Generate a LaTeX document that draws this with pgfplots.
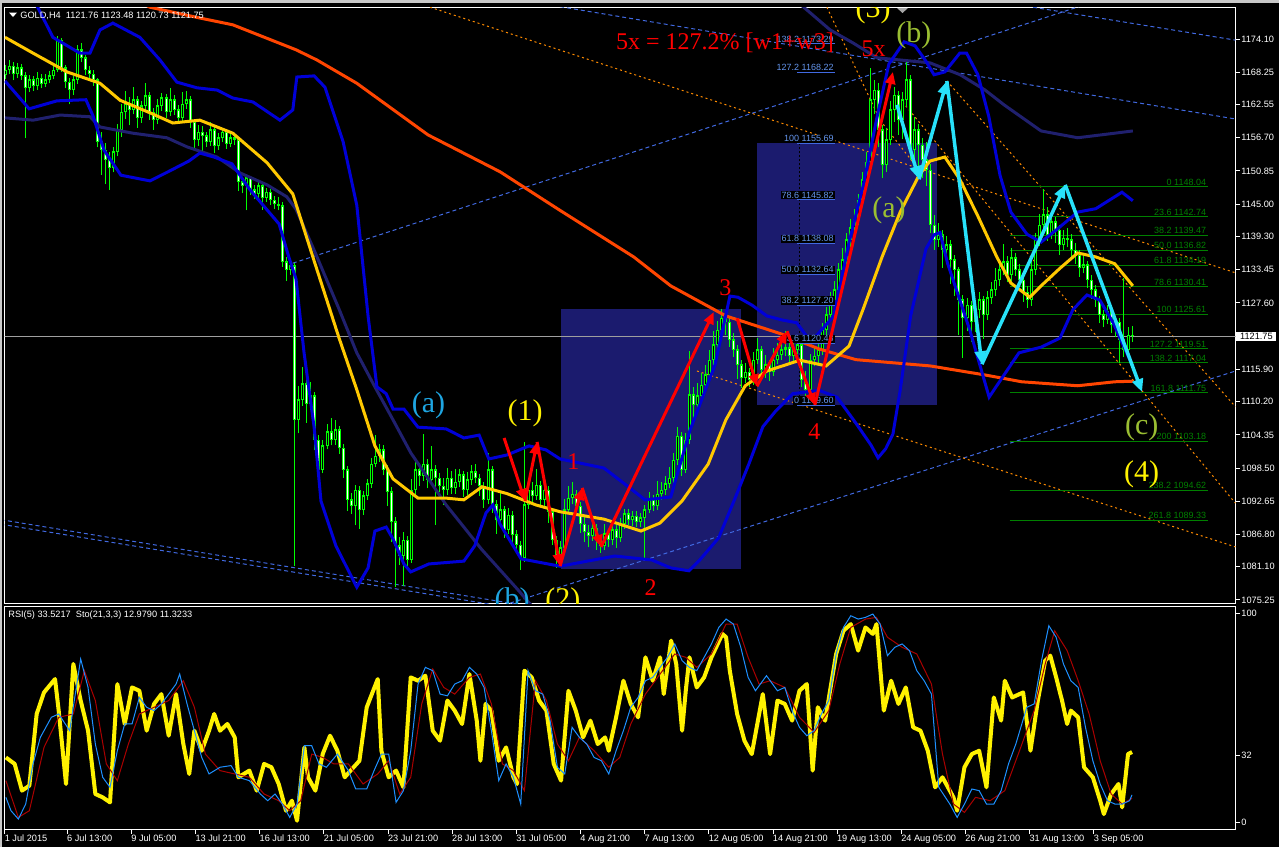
\documentclass[border=0pt]{standalone}
\usepackage{fontspec}
\setmainfont{Liberation Sans}
\newfontfamily\serifl{Liberation Serif}
\usepackage{pgfplots}
\pgfplotsset{compat=1.18}
\usepackage{pgfplotstable}
\usetikzlibrary{arrows.meta}
\newlength\pxu
\setlength\pxu{0.5pt}
\newcommand\ticfont{\fontsize{4.6pt}{5.5pt}\selectfont}
\newcommand\fibfont{\fontsize{4.5pt}{5pt}\selectfont}
\newcommand\wavefont{\serifl\fontsize{15pt}{15pt}\selectfont}
\newcommand\redfont{\serifl\fontsize{12pt}{12pt}\selectfont}
\definecolor{lime}{RGB}{0,255,0}
\definecolor{bbblue}{RGB}{0,0,215}
\definecolor{navyma}{RGB}{32,32,110}
\definecolor{maorange}{RGB}{255,69,0}
\definecolor{mayellow}{RGB}{255,200,0}
\definecolor{fibbox}{RGB}{27,27,110}
\definecolor{fibtxt}{RGB}{100,149,237}
\definecolor{fibgreen}{RGB}{0,128,0}
\definecolor{dashblue}{RGB}{65,105,225}
\definecolor{dotorange}{RGB}{255,140,0}
\definecolor{wcyan}{RGB}{40,225,250}
\definecolor{lblcyan}{RGB}{30,165,225}
\definecolor{olivel}{RGB}{154,190,50}
\definecolor{stblue}{RGB}{30,144,255}
\definecolor{stred}{RGB}{170,0,0}
\definecolor{winframe}{RGB}{200,200,200}
\pgfplotsset{candle/.style={only marks, mark=*, mark size=0pt, mark options={opacity=0}, forget plot}}

\pgfplotstableread{
i o h l c
0 1167.8 1169.6 1167.0 1168.6
1 1168.6 1170.4 1168.0 1169.3
2 1169.3 1170.0 1166.8 1167.9
3 1167.9 1169.8 1167.2 1169.0
4 1169.0 1169.7 1166.9 1167.6
5 1167.6 1168.2 1156.6 1165.5
6 1165.5 1167.8 1164.8 1166.9
7 1166.9 1167.5 1165.0 1165.8
8 1165.8 1168.3 1165.2 1167.2
9 1167.2 1167.9 1165.4 1166.2
10 1166.2 1168.0 1165.6 1166.9
11 1166.9 1168.5 1166.3 1167.6
12 1167.6 1169.4 1167.0 1168.6
13 1168.6 1174.6 1168.2 1173.9
14 1173.9 1174.3 1168.3 1169.0
15 1169.0 1169.6 1165.4 1166.5
16 1166.5 1167.2 1162.6 1165.1
17 1165.1 1167.6 1164.3 1166.9
18 1166.9 1173.0 1166.2 1172.2
19 1172.2 1173.4 1170.0 1170.8
20 1170.8 1171.2 1167.8 1168.6
21 1168.6 1169.4 1167.1 1167.9
22 1167.9 1168.6 1165.9 1166.9
23 1166.9 1167.3 1155.0 1156.0
24 1156.0 1157.8 1150.2 1154.5
25 1154.5 1155.8 1148.5 1152.8
26 1152.8 1154.2 1147.5 1151.4
27 1151.4 1155.0 1150.6 1154.2
28 1154.2 1159.2 1153.4 1158.1
29 1158.1 1162.6 1156.9 1161.2
30 1161.2 1164.9 1160.0 1162.6
31 1162.6 1163.8 1158.9 1161.6
32 1161.6 1165.6 1160.8 1163.4
33 1163.4 1164.0 1158.5 1160.2
34 1160.2 1163.1 1159.3 1162.3
35 1162.3 1166.3 1161.6 1164.1
36 1164.1 1164.8 1159.9 1161.2
37 1161.2 1162.0 1158.1 1159.8
38 1159.8 1163.5 1159.1 1162.3
39 1162.3 1164.5 1161.5 1163.7
40 1163.7 1164.4 1160.1 1161.2
41 1161.2 1165.5 1160.5 1163.4
42 1163.4 1164.2 1160.7 1161.6
43 1161.6 1162.5 1159.3 1160.2
44 1160.2 1164.8 1159.6 1162.6
45 1162.6 1164.9 1161.8 1163.4
46 1163.4 1164.0 1158.5 1159.5
47 1159.5 1160.0 1154.7 1156.3
48 1156.3 1159.0 1155.3 1157.7
49 1157.7 1158.8 1154.3 1157.0
50 1157.0 1157.7 1155.1 1156.0
51 1156.0 1159.4 1155.3 1158.1
52 1158.1 1158.7 1154.0 1155.2
53 1155.2 1157.6 1154.6 1156.7
54 1156.7 1158.5 1155.9 1157.7
55 1157.7 1158.3 1154.8 1155.6
56 1155.6 1157.5 1155.0 1156.7
57 1156.7 1157.4 1155.4 1156.3
58 1156.3 1156.9 1147.3 1148.9
59 1148.9 1149.8 1146.9 1148.2
60 1148.2 1150.3 1143.9 1149.6
61 1149.6 1150.0 1146.6 1147.5
62 1147.5 1148.4 1145.9 1146.8
63 1146.8 1149.1 1146.1 1148.2
64 1148.2 1148.6 1144.0 1146.1
65 1146.1 1147.8 1145.4 1147.1
66 1147.1 1147.6 1144.9 1145.7
67 1145.7 1146.5 1144.2 1145.0
68 1145.0 1146.3 1143.9 1144.7
69 1144.7 1145.3 1134.0 1134.8
70 1134.8 1135.7 1131.5 1133.4
71 1133.4 1135.2 1132.6 1134.1
72 1134.1 1134.6 1081.2 1107.0
73 1107.0 1112.9 1104.6 1110.5
74 1110.5 1116.3 1109.5 1113.3
75 1113.3 1114.2 1106.5 1109.8
76 1109.8 1113.6 1108.8 1111.2
77 1111.2 1111.9 1101.6 1103.4
78 1103.4 1104.3 1096.4 1098.2
79 1098.2 1103.4 1097.6 1102.4
80 1102.4 1106.2 1101.8 1104.9
81 1104.9 1107.4 1102.5 1103.4
82 1103.4 1107.0 1102.6 1105.2
83 1105.2 1105.9 1101.0 1102.0
84 1102.0 1102.7 1096.8 1098.2
85 1098.2 1098.9 1091.0 1092.9
86 1092.9 1094.1 1090.4 1091.8
87 1091.8 1095.5 1088.4 1094.6
88 1094.6 1095.3 1087.8 1091.1
89 1091.1 1094.5 1090.3 1093.6
90 1093.6 1096.6 1092.9 1095.7
91 1095.7 1100.2 1095.0 1099.2
92 1099.2 1104.4 1098.6 1100.6
93 1100.6 1102.8 1099.6 1101.7
94 1101.7 1102.5 1097.2 1098.2
95 1098.2 1099.0 1091.8 1094.3
96 1094.3 1095.1 1085.4 1089.0
97 1089.0 1089.8 1077.5 1084.8
98 1084.8 1086.3 1081.4 1083.0
99 1083.0 1087.2 1077.8 1085.8
100 1085.8 1086.6 1080.7 1082.3
101 1082.3 1096.5 1081.8 1094.6
102 1094.6 1099.8 1093.6 1098.2
103 1098.2 1099.4 1095.4 1097.1
104 1097.1 1104.5 1096.3 1099.2
105 1099.2 1100.1 1094.9 1096.4
106 1096.4 1102.3 1095.7 1098.2
107 1098.2 1099.1 1088.5 1096.7
108 1096.7 1097.6 1094.2 1095.3
109 1095.3 1096.8 1092.0 1094.6
110 1094.6 1098.5 1093.7 1096.7
111 1096.7 1097.9 1094.0 1095.0
112 1095.0 1098.3 1093.9 1096.0
113 1096.0 1098.4 1095.2 1097.3
114 1097.3 1098.0 1093.4 1094.6
115 1094.6 1097.8 1093.7 1096.4
116 1096.4 1099.0 1095.6 1097.8
117 1097.8 1099.3 1095.9 1096.7
118 1096.7 1097.4 1093.5 1095.3
119 1095.3 1096.0 1091.5 1092.9
120 1092.9 1101.2 1092.1 1098.2
121 1098.2 1098.9 1090.6 1092.0
122 1092.0 1092.8 1086.9 1089.3
123 1089.3 1094.3 1088.4 1091.1
124 1091.1 1091.9 1086.2 1087.6
125 1087.6 1091.5 1086.8 1090.2
126 1090.2 1090.9 1085.3 1086.7
127 1086.7 1087.6 1083.4 1084.9
128 1084.9 1085.6 1080.5 1082.7
129 1082.7 1103.1 1082.0 1092.0
130 1092.0 1095.8 1091.2 1094.6
131 1094.6 1096.0 1092.3 1093.6
132 1093.6 1098.4 1092.9 1095.5
133 1095.5 1096.2 1091.6 1092.9
134 1092.9 1095.7 1091.8 1094.6
135 1094.6 1095.3 1088.9 1090.8
136 1090.8 1091.5 1084.9 1085.8
137 1085.8 1086.6 1080.9 1083.0
138 1083.0 1085.6 1082.2 1084.4
139 1084.4 1093.1 1083.9 1091.1
140 1091.1 1095.3 1090.4 1093.2
141 1093.2 1096.1 1092.1 1093.9
142 1093.9 1094.6 1090.2 1091.8
143 1091.8 1092.5 1087.1 1088.6
144 1088.6 1089.9 1085.4 1087.2
145 1087.2 1088.4 1084.5 1086.5
146 1086.5 1089.5 1085.7 1087.9
147 1087.9 1088.7 1084.1 1085.8
148 1085.8 1086.7 1083.6 1084.8
149 1084.8 1088.7 1084.0 1086.9
150 1086.9 1087.8 1084.6 1085.8
151 1085.8 1088.9 1085.0 1087.6
152 1087.6 1088.4 1084.4 1086.2
153 1086.2 1089.7 1085.5 1088.6
154 1088.6 1091.3 1087.8 1090.4
155 1090.4 1091.2 1088.4 1089.3
156 1089.3 1091.0 1088.3 1090.0
157 1090.0 1090.9 1088.1 1089.0
158 1089.0 1090.6 1088.2 1089.7
159 1089.7 1092.0 1082.3 1091.1
160 1091.1 1094.3 1090.5 1092.9
161 1092.9 1093.8 1091.0 1091.8
162 1091.8 1096.2 1091.1 1093.9
163 1093.9 1096.0 1092.9 1094.6
164 1094.6 1097.1 1093.8 1095.7
165 1095.7 1098.6 1094.9 1096.7
166 1096.7 1101.2 1095.8 1099.9
167 1099.9 1105.8 1099.0 1104.1
168 1104.1 1104.8 1097.1 1098.2
169 1098.2 1104.6 1097.6 1103.4
170 1103.4 1119.1 1102.7 1111.4
171 1111.4 1112.8 1106.6 1109.6
172 1109.6 1113.4 1108.6 1111.2
173 1111.2 1115.2 1110.4 1113.1
174 1113.1 1116.7 1112.3 1114.9
175 1114.9 1119.3 1114.1 1117.5
176 1117.5 1122.6 1116.6 1120.2
177 1120.2 1124.4 1119.6 1122.8
178 1122.8 1126.6 1121.9 1124.9
179 1124.9 1126.0 1121.9 1124.2
180 1124.2 1125.1 1119.9 1121.1
181 1121.1 1122.3 1118.0 1119.3
182 1119.3 1120.1 1114.2 1116.7
183 1116.7 1117.5 1112.6 1114.4
184 1114.4 1117.0 1113.5 1115.4
185 1115.4 1116.1 1112.8 1114.0
186 1114.0 1119.0 1113.2 1117.5
187 1117.5 1121.5 1116.8 1119.3
188 1119.3 1120.0 1114.7 1115.8
189 1115.8 1118.5 1114.4 1116.7
190 1116.7 1117.5 1113.9 1115.4
191 1115.4 1119.6 1114.8 1117.5
192 1117.5 1120.5 1116.9 1118.4
193 1118.4 1121.4 1117.6 1119.3
194 1119.3 1122.6 1118.2 1119.7
195 1119.7 1120.9 1117.0 1118.2
196 1118.2 1120.8 1117.4 1119.3
197 1119.3 1121.5 1118.6 1120.2
198 1120.2 1121.0 1112.8 1114.0
199 1114.0 1115.6 1110.8 1112.3
200 1112.3 1118.6 1109.6 1117.5
201 1117.5 1119.6 1116.4 1118.2
202 1118.2 1120.6 1116.9 1119.3
203 1119.3 1124.0 1118.5 1122.8
204 1122.8 1126.8 1121.9 1125.5
205 1125.5 1129.6 1124.7 1128.1
206 1128.1 1131.4 1127.0 1129.9
207 1129.9 1134.6 1128.9 1133.4
208 1133.4 1137.3 1132.1 1135.2
209 1135.2 1140.0 1134.4 1138.7
210 1138.7 1142.3 1137.5 1140.8
211 1140.8 1144.1 1139.9 1142.2
212 1142.2 1146.8 1141.4 1145.7
213 1145.7 1150.6 1144.8 1149.3
214 1149.3 1154.2 1148.3 1152.4
215 1152.4 1169.0 1151.6 1163.4
216 1163.4 1166.9 1160.8 1165.1
217 1165.1 1166.4 1155.0 1158.1
218 1158.1 1159.0 1149.6 1151.9
219 1151.9 1158.4 1150.7 1156.3
220 1156.3 1163.2 1155.4 1161.6
221 1161.6 1165.6 1159.5 1164.2
222 1164.2 1165.0 1157.2 1159.8
223 1159.8 1164.8 1156.4 1163.4
224 1163.4 1170.4 1162.1 1166.9
225 1166.9 1167.7 1152.8 1154.5
226 1154.5 1160.4 1153.0 1158.1
227 1158.1 1159.2 1150.6 1155.4
228 1155.4 1156.6 1149.6 1152.8
229 1152.8 1156.0 1148.2 1151.0
230 1151.0 1152.1 1140.0 1141.3
231 1141.3 1143.1 1137.0 1138.7
232 1138.7 1141.6 1137.5 1139.6
233 1139.6 1140.4 1133.8 1136.9
234 1136.9 1139.3 1135.8 1137.8
235 1137.8 1138.6 1131.0 1135.2
236 1135.2 1136.1 1128.8 1133.4
237 1133.4 1134.0 1122.0 1128.1
238 1128.1 1129.0 1117.9 1124.9
239 1124.9 1128.5 1122.6 1127.2
240 1127.2 1128.0 1120.7 1124.2
241 1124.2 1127.7 1122.4 1126.3
242 1126.3 1129.5 1125.0 1128.1
243 1128.1 1128.9 1121.2 1125.5
244 1125.5 1129.7 1124.6 1128.5
245 1128.5 1131.2 1127.4 1129.9
246 1129.9 1133.7 1128.9 1131.6
247 1131.6 1135.3 1130.6 1133.4
248 1133.4 1138.0 1132.5 1134.8
249 1134.8 1135.9 1131.2 1132.5
250 1132.5 1137.2 1131.4 1135.5
251 1135.5 1136.4 1132.4 1133.4
252 1133.4 1134.4 1130.5 1131.6
253 1131.6 1132.6 1127.8 1129.5
254 1129.5 1130.6 1126.7 1128.1
255 1128.1 1135.2 1127.1 1133.4
256 1133.4 1140.0 1132.6 1138.7
257 1138.7 1143.3 1137.6 1141.3
258 1141.3 1147.6 1140.4 1143.1
259 1143.1 1144.5 1138.5 1139.6
260 1139.6 1143.8 1138.8 1141.9
261 1141.9 1142.7 1138.2 1140.4
262 1140.4 1141.3 1136.0 1137.8
263 1137.8 1140.5 1136.9 1139.0
264 1139.0 1140.8 1137.4 1138.7
265 1138.7 1139.8 1135.2 1136.9
266 1136.9 1138.2 1134.5 1136.0
267 1136.0 1137.0 1132.2 1133.8
268 1133.8 1135.9 1132.8 1134.3
269 1134.3 1135.0 1130.2 1131.6
270 1131.6 1132.5 1128.3 1129.9
271 1129.9 1130.8 1126.9 1128.1
272 1128.1 1128.8 1124.0 1125.5
273 1125.5 1126.4 1123.3 1124.6
274 1124.6 1127.3 1123.9 1126.0
275 1126.0 1126.7 1122.3 1123.7
276 1123.7 1125.3 1121.6 1124.2
277 1124.2 1124.9 1117.0 1121.1
278 1121.1 1132.0 1118.0 1119.3
279 1119.3 1123.3 1118.6 1121.9
280 1121.76 1123.48 1120.73 1121.75
}\candles

\pgfplotstableread{
i v
0.22 30.9
2.40 27.8
4.23 15.0
6.05 17.4
7.87 51.7
9.69 62.0
12.43 68.4
13.34 53.3
15.16 18.2
16.98 75.6
18.80 58.1
20.63 43.7
22.45 13.4
24.27 11.8
26.09 9.4
27.91 66.0
29.74 46.9
31.56 64.4
33.38 62.8
35.20 43.7
37.03 56.5
38.85 61.2
40.67 41.3
42.49 61.2
44.31 37.3
45.77 23.0
47.05 43.7
48.87 34.1
50.69 43.7
51.97 51.7
53.42 43.7
55.25 46.9
57.07 40.5
57.98 21.4
60.71 24.6
62.54 15.0
64.36 27.8
66.18 26.2
68.00 18.2
69.82 5.4
71.28 10.2
72.56 0.6
74.38 35.7
75.29 21.4
77.11 15.0
78.93 32.5
80.76 41.3
82.58 34.1
84.40 21.4
85.86 24.6
88.05 29.3
89.87 54.9
92.60 68.4
93.51 34.1
95.33 21.4
97.16 24.6
98.98 16.6
100.80 69.2
102.62 67.6
104.44 70.0
106.27 43.7
108.09 38.9
109.91 58.1
111.73 53.3
113.55 46.9
115.38 70.8
117.20 48.5
118.11 29.3
119.39 56.5
120.84 53.3
122.67 29.3
124.49 35.7
126.31 21.4
127.22 18.2
129.04 72.4
130.87 69.2
132.69 58.1
134.51 53.3
136.33 27.8
138.15 19.8
139.98 62.8
141.80 53.3
143.62 40.5
145.44 48.5
147.27 37.3
149.09 40.5
150.00 34.1
151.82 50.1
153.64 67.6
155.47 56.5
157.29 50.1
159.11 78.8
160.93 67.6
162.75 78.8
163.66 61.2
165.49 86.8
166.76 75.6
168.22 43.7
169.13 62.8
170.04 78.8
171.86 64.4
173.69 69.2
175.51 78.8
178.24 90.0
179.15 88.4
180.07 72.4
181.89 51.7
183.71 38.9
185.53 32.5
188.27 61.2
190.09 32.5
191.91 58.1
193.73 56.5
195.55 48.5
197.38 62.8
199.20 66.0
200.66 24.6
201.93 54.9
203.75 48.5
206.49 80.4
208.31 91.5
210.13 94.7
211.95 82.0
213.77 93.1
215.60 90.0
216.51 94.7
218.33 53.3
220.15 67.6
221.97 56.5
223.80 64.4
225.62 45.3
227.44 43.7
229.26 34.1
231.08 16.6
232.91 21.4
235.64 11.8
236.55 5.4
238.37 26.2
240.20 32.5
242.02 34.1
243.84 16.6
245.66 59.6
247.48 48.5
248.39 67.6
250.22 59.6
252.95 62.0
254.77 34.1
256.60 58.1
258.42 77.2
259.69 79.6
261.15 69.2
262.61 58.1
263.88 46.9
264.80 53.3
266.62 50.1
268.08 26.2
270.27 21.4
272.09 10.2
273.00 3.8
274.82 13.4
276.64 18.2
277.55 7.0
279.01 32.5
280.00 33.5
}\rsi

\pgfplotstableread{
i k
0.22 11.8
1.49 5.4
3.32 1.4
5.14 8.6
6.96 27.8
8.78 40.5
11.52 50.1
13.34 51.7
16.07 43.7
18.80 78.0
20.63 64.4
22.45 37.3
24.27 21.4
26.09 16.6
27.91 34.1
29.74 46.9
31.56 46.9
33.38 59.6
35.20 54.9
37.03 53.3
38.85 56.5
40.67 61.2
42.49 66.0
43.40 70.8
45.23 56.5
47.05 43.7
48.87 30.9
50.69 23.0
53.42 26.2
56.16 27.0
57.98 21.4
60.71 19.8
63.45 13.4
65.27 10.2
67.09 13.4
68.91 8.6
70.74 2.2
72.56 8.6
74.38 36.5
76.20 36.5
78.02 27.8
79.85 26.2
82.58 32.5
85.31 24.6
87.13 15.8
89.87 15.8
91.69 24.6
93.51 32.5
95.33 32.5
97.16 9.4
98.98 15.0
100.80 34.1
102.62 66.0
104.44 74.0
106.27 72.4
108.09 61.2
109.91 60.4
111.73 66.0
113.55 67.6
115.38 74.0
117.20 70.8
119.02 64.4
120.84 43.7
122.67 19.8
124.49 27.8
126.31 21.4
128.13 8.6
129.95 72.4
131.78 62.8
133.60 61.2
135.42 48.5
137.24 26.2
139.06 23.0
140.89 45.3
142.71 40.5
144.53 37.3
146.35 30.9
148.18 29.3
150.00 23.0
151.82 34.1
153.64 43.7
155.47 54.9
157.29 59.6
159.11 67.6
160.93 69.2
162.75 74.0
164.57 78.8
166.40 85.2
168.22 77.2
170.04 74.0
171.86 72.4
173.69 78.8
175.51 85.2
177.33 93.1
179.15 97.1
180.97 94.7
182.80 83.6
184.62 69.2
186.44 62.8
189.18 70.0
191.91 62.8
193.73 64.4
195.55 53.3
197.38 45.3
199.20 41.3
201.02 43.7
202.84 51.7
204.67 58.1
206.49 80.4
208.31 93.1
210.13 98.7
211.95 97.1
213.77 97.9
215.60 99.5
217.42 94.7
219.24 79.6
221.06 83.6
222.88 85.2
224.71 82.0
226.53 72.4
228.35 67.6
230.17 61.2
231.99 16.6
234.73 8.6
236.55 2.2
238.37 8.6
240.20 15.8
242.02 15.0
243.84 8.6
245.66 8.6
247.48 15.0
249.31 27.8
251.13 37.3
253.86 54.9
255.68 56.5
257.51 77.2
259.33 93.9
261.15 88.4
262.97 75.6
264.80 67.6
266.62 64.4
268.44 45.3
270.27 29.3
272.09 18.2
273.91 10.2
275.73 8.6
277.55 8.6
279.38 10.2
280.00 12.98
}\stk

\pgfplotstableread{
i d
0.22 19.8
3.32 2.2
6.05 5.4
9.69 35.7
13.34 50.1
16.98 51.7
19.71 72.4
22.45 58.1
25.18 27.8
27.91 19.8
30.65 37.3
33.38 51.7
37.03 54.9
40.67 58.1
44.31 67.6
47.05 54.9
49.78 32.5
53.42 24.6
57.07 23.0
60.71 21.4
64.36 13.4
68.00 10.2
70.74 5.4
73.47 10.2
76.20 32.5
78.93 30.9
81.67 27.8
85.31 27.8
88.96 18.2
92.60 23.0
95.33 29.3
98.07 13.4
100.80 21.4
103.53 56.5
106.27 73.2
109.00 64.4
111.73 61.2
115.38 69.2
118.11 70.8
120.84 56.5
123.58 27.8
126.31 24.6
129.04 15.0
131.78 67.6
134.51 58.1
137.24 37.3
139.98 29.3
142.71 40.5
146.35 34.1
150.00 26.2
152.73 30.9
155.47 46.9
159.11 61.2
162.75 70.8
166.40 80.4
169.13 78.8
171.86 74.0
175.51 80.4
179.15 94.7
181.89 94.7
184.62 78.8
187.35 66.0
190.09 67.6
193.73 64.4
197.38 50.1
201.02 42.9
204.67 53.3
207.40 75.6
210.13 93.1
213.77 97.1
216.51 97.9
219.24 88.4
222.88 83.6
226.53 80.4
230.17 66.0
232.91 32.5
235.64 8.6
238.37 4.6
241.11 11.8
244.75 10.2
248.39 15.0
252.04 34.1
255.68 53.3
258.42 75.6
260.79 91.5
263.88 82.0
266.62 67.6
269.35 51.7
272.09 29.3
274.82 13.4
277.55 8.6
280.00 11.32
}\std

\begin{document}
\begin{tikzpicture}
\fill[black] (0,0) rectangle (1279\pxu,-847\pxu);
\fill[winframe] (0,0) rectangle (1279\pxu,-3\pxu);
\fill[winframe] (0,0) rectangle (2\pxu,-847\pxu);

\begin{axis}[
  name=main,
  at={(4.5\pxu,-7.5\pxu)}, anchor=north west,
  scale only axis, width=1231\pxu, height=596\pxu,
  xmin=-0.124, xmax=305.71, ymin=1074.63, ymax=1179.65,
  axis background/.style={fill=black},
  axis line style={white, line width=1\pxu},
  xtick=\empty,
  ytick={1174.10,1168.25,1162.55,1156.70,1150.85,1145.00,1139.30,1133.45,1127.60,1115.90,1110.20,1104.35,1098.50,1092.65,1086.80,1081.10,1075.25},
  yticklabels={1174.10,1168.25,1162.55,1156.70,1150.85,1145.00,1139.30,1133.45,1127.60,1115.90,1110.20,1104.35,1098.50,1092.65,1086.80,1081.10,1075.25},
  ytick pos=right, yticklabel pos=right, ytick align=outside,
  major tick length=4\pxu,
  tick style={white, line width=1\pxu},
  yticklabel style={font=\ticfont, text=white, anchor=west, inner sep=0pt, xshift=1.5\pxu},
  clip=true,
]
% Fibonacci boxes
\addplot[fill=fibbox, draw=none, forget plot] coordinates {(138.1,1080.7) (182.9,1080.7) (182.9,1126.5) (138.1,1126.5)} -- cycle;
\addplot[fill=fibbox, draw=none, forget plot] coordinates {(186.8,1109.60) (231.6,1109.60) (231.6,1155.69) (186.8,1155.69)} -- cycle;
\addplot[black, line width=0.5pt, dash pattern=on 1pt off 1pt] coordinates {(197.5,1109.6) (197.5,1155.69)};

% dashed blue channel lines
\addplot[dashblue, line width=0.5pt, dash pattern=on 2pt off 1.5pt] coordinates {(71.5,1134.6) (275,1181.7)};
\addplot[dashblue, line width=0.5pt, dash pattern=on 2pt off 1.5pt] coordinates {(137.9,1179.8) (305.7,1160.0)};
\addplot[dashblue, line width=0.5pt, dash pattern=on 2pt off 1.5pt] coordinates {(255.4,1179.7) (305.7,1173.9)};
\addplot[dashblue, line width=0.5pt, dash pattern=on 2pt off 1.5pt] coordinates {(-1,1089.4) (135,1073.6)};
\addplot[dashblue, line width=0.5pt, dash pattern=on 2pt off 1.5pt] coordinates {(-1,1088.6) (130,1073.4)};
\addplot[dashblue, line width=0.5pt, dash pattern=on 2pt off 1.5pt] coordinates {(125.5,1074.7) (305.7,1115.6)};
% dotted orange fan lines
\addplot[dotorange, line width=0.5pt, dash pattern=on 1pt off 1.5pt] coordinates {(105.6,1179.7) (305.7,1132.9)};
\addplot[dotorange, line width=0.5pt, dash pattern=on 1pt off 1.5pt] coordinates {(171.9,1115.6) (305.7,1084.6)};
\addplot[dotorange, line width=0.5pt, dash pattern=on 1pt off 1.5pt] coordinates {(234.0,1166.7) (305.7,1109.3)};
\addplot[dotorange, line width=0.5pt, dash pattern=on 1pt off 1.5pt] coordinates {(223.0,1163.0) (247.2,1142.2) (305.7,1092.3)};
\addplot[dotorange, line width=0.5pt, dash pattern=on 1pt off 1.5pt] coordinates {(204.2,1179.7) (217.4,1159.8) (226,1152)};

% bid line
\addplot[gray!75, line width=0.5pt] coordinates {(-1,1121.75) (306,1121.75)};

% green fibonacci levels
\pgfplotsinvokeforeach{1148.04,1142.74,1139.47,1136.82,1134.19,1130.41,1125.61,1119.51,1117.04,1111.75,1103.18,1094.62,1089.33}{
  \addplot[fibgreen, line width=0.5pt] coordinates {(249.6,#1) (298.8,#1)};
}
\begin{scope}[every node/.style={anchor=south east, text=fibgreen, font=\fibfont, inner sep=0.6pt}]
\node at (axis cs:298.8,1148.04) {0 1148.04};
\node at (axis cs:298.8,1142.74) {23.6 1142.74};
\node at (axis cs:298.8,1139.47) {38.2 1139.47};
\node at (axis cs:298.8,1136.82) {50.0 1136.82};
\node at (axis cs:298.8,1134.19) {61.8 1134.19};
\node at (axis cs:298.8,1130.41) {78.6 1130.41};
\node at (axis cs:298.8,1125.61) {100 1125.61};
\node at (axis cs:298.8,1119.51) {127.2 1119.51};
\node at (axis cs:298.8,1117.04) {138.2 1117.04};
\node at (axis cs:298.8,1111.75) {161.8 1111.75};
\node at (axis cs:298.8,1103.18) {200 1103.18};
\node at (axis cs:298.8,1094.62) {238.2 1094.62};
\node at (axis cs:298.8,1089.33) {261.8 1089.33};
\end{scope}

% candles: wicks, bodies, interiors
\addplot[lime, candle, error bars/.cd, y dir=plus, y explicit, error mark=none, error bar style={lime, line width=0.5pt}]
  table[x=i, y=l, y error expr=\thisrow{h}-\thisrow{l}] {\candles};
\addplot[lime, candle, error bars/.cd, y dir=plus, y explicit, error mark=none, error bar style={lime, line width=1.5pt}]
  table[x=i, y expr={min(\thisrow{o},\thisrow{c})}, y error expr={abs(\thisrow{c}-\thisrow{o})+0.1}] {\candles};
\addplot[white, candle, error bars/.cd, y dir=plus, y explicit, error mark=none, error bar style={white, line width=0.5pt}]
  table[x=i, y expr={(\thisrow{c}<\thisrow{o}-0.45) ? \thisrow{c}+0.18 : nan}, y error expr={abs(\thisrow{c}-\thisrow{o})-0.36}] {\candles};
\addplot[black, candle, error bars/.cd, y dir=plus, y explicit, error mark=none, error bar style={black, line width=0.5pt}]
  table[x=i, y expr={(\thisrow{c}>\thisrow{o}+0.45) ? \thisrow{o}+0.18 : nan}, y error expr={abs(\thisrow{c}-\thisrow{o})-0.36}] {\candles};

% indicators
\addplot[maorange, line width=1.5pt] coordinates {(23.6,1184.5) (36.0,1179.7) (48.4,1177.8) (56.6,1176.6) (72.3,1172.2) (77.5,1170.4) (87.4,1166.3) (105.1,1157.2) (123.0,1150.7) (137.9,1143.9) (156.2,1135.7) (165.4,1130.6) (179.1,1125.3) (193.0,1122.1) (202.2,1119.5) (211.4,1117.6) (229.8,1116.5) (243.5,1114.9) (252.6,1113.7) (266.5,1113.0) (275.7,1113.7) (280.2,1113.8)};
\addplot[navyma, line width=1.5pt] coordinates {(0,1160.2) (7.0,1159.8) (13.7,1160.7) (21.1,1160.4) (23.6,1158.6) (31.8,1157.5) (40.2,1156.7) (45.2,1155.1) (52.7,1153.3) (58.4,1150.5) (65.1,1148.4) (70.0,1146.3) (72.3,1144.1) (76.8,1136.9) (83.0,1126.5) (87.4,1118.8) (91.9,1112.8) (96.4,1107.0) (100.8,1101.2) (109.6,1092.0) (118.5,1084.1) (127.5,1077.0) (131.7,1073.5)};
\addplot[navyma, line width=1.5pt] coordinates {(196.3,1181.0) (205.0,1175.7) (210.7,1173.4) (216.6,1170.8) (222.4,1170.4) (229.8,1169.9) (237.3,1167.8) (243.5,1165.1) (248.2,1162.5) (257.4,1157.9) (266.5,1156.7) (275.7,1157.5) (280.2,1157.9)};
\addplot[bbblue, line width=1.5pt] coordinates {(3.7,1184.5) (8.2,1179.6) (11.9,1174.4) (18.6,1171.6) (21.1,1171.6) (23.6,1175.7) (26.8,1176.9) (33.5,1174.4) (38.5,1170.4) (42.7,1166.5) (47.7,1165.5) (52.7,1165.1) (56.6,1163.7) (61.6,1163.0) (68.3,1159.8) (71.5,1161.6) (72.5,1167.4) (76.8,1167.6) (79.5,1165.6) (84.0,1156.0) (87.4,1144.8) (90.2,1125.3) (92.4,1112.8) (94.7,1111.6) (96.4,1108.9) (99.1,1108.9) (102.6,1105.7) (109.6,1105.4) (114.0,1103.8) (117.8,1104.3) (120.2,1100.1) (124.7,1100.8) (130.2,1102.4) (134.4,1101.7) (137.9,1100.1) (148.8,1098.5) (154.5,1095.4) (159.0,1092.9) (165.4,1093.4) (170.2,1105.2) (176.4,1116.7) (180.1,1128.8) (182.1,1128.6) (185.6,1127.2) (189.3,1125.3) (193.0,1124.6) (196.7,1124.1) (200.2,1120.7) (205.9,1125.3) (209.7,1138.3) (213.2,1148.2) (216.9,1161.2) (219.6,1169.7) (223.4,1173.6) (226.1,1172.9) (228.8,1170.2) (230.8,1167.8) (233.5,1168.3) (237.2,1171.6) (238.9,1171.6) (241.7,1167.8) (244.4,1160.5) (247.2,1150.1) (249.9,1143.6) (253.9,1139.7) (257.4,1138.3) (262.1,1141.0) (266.5,1143.6) (271.0,1144.2) (277.5,1147.1) (280.2,1145.6)};
\addplot[bbblue, line width=1.5pt] coordinates {(0,1166.7) (6.0,1161.8) (12.9,1163.2) (20.1,1163.4) (21.9,1160.5) (24.6,1154.5) (28.8,1150.1) (36.0,1149.1) (40.5,1150.7) (45.7,1152.6) (48.4,1154.0) (51.9,1153.3) (56.4,1152.1) (60.9,1147.5) (68.1,1141.5) (70.5,1135.7) (72.3,1131.8) (74.3,1118.8) (76.8,1105.7) (78.5,1092.7) (82.2,1084.8) (87.4,1077.5) (90.2,1080.9) (91.9,1087.4) (94.7,1088.1) (96.4,1086.0) (99.1,1081.6) (100.8,1080.2) (105.3,1081.6) (114.0,1082.1) (116.7,1084.8) (119.5,1090.6) (121.2,1092.0) (123.0,1088.6) (128.2,1082.5) (137.9,1081.2) (151.5,1083.0) (160.7,1082.3) (165.4,1080.9) (169.9,1080.4) (172.6,1082.3) (177.3,1086.2) (181.1,1092.7) (184.8,1099.2) (188.3,1105.8) (191.3,1108.4) (195.7,1111.6) (202.2,1112.2) (206.7,1111.0) (211.4,1106.4) (215.1,1102.6) (216.9,1100.3) (218.8,1101.9) (220.6,1104.5) (222.4,1112.2) (225.0,1125.3) (227.1,1131.8) (228.8,1137.1) (230.8,1139.6) (232.3,1140.0) (234.2,1134.5) (239.7,1122.8) (244.5,1111.0) (248.2,1114.9) (251.9,1118.8) (257.4,1119.8) (262.1,1121.4) (265.3,1126.4) (268.8,1129.0) (272.0,1128.1) (275.3,1124.1) (279.5,1117.5)};
\addplot[mayellow, line width=1.5pt] coordinates {(0,1174.4) (7.0,1171.6) (15.4,1168.3) (23.6,1166.3) (28.6,1163.3) (36.0,1161.1) (41.7,1159.3) (48.4,1159.8) (56.6,1157.5) (65.1,1152.3) (71.5,1146.8) (76.8,1135.0) (83.0,1121.4) (87.4,1112.3) (91.9,1102.4) (96.4,1096.6) (102.6,1093.2) (109.6,1093.2) (114.0,1092.9) (118.5,1095.2) (124.7,1094.0) (131.9,1092.0) (137.9,1090.8) (148.8,1089.5) (158.0,1087.4) (162.7,1088.8) (168.2,1092.7) (174.7,1099.2) (179.1,1107.0) (183.9,1113.0) (189.3,1115.6) (197.5,1117.5) (204.0,1116.5) (209.7,1120.0) (213.2,1126.5) (217.9,1135.7) (222.4,1143.6) (227.1,1150.1) (229.8,1152.6) (233.5,1153.3) (237.2,1149.4) (241.7,1142.9) (246.4,1135.7) (249.9,1131.1) (254.6,1128.6) (257.4,1130.6) (262.1,1133.7) (266.5,1136.4) (271.0,1135.7) (275.7,1134.5) (280.2,1130.6)};

% blue fibonacci levels and labels
\pgfplotsinvokeforeach{1173.29,1168.22,1155.69,1145.82,1138.08,1132.64,1127.20,1120.48,1109.60}{
  \addplot[dashblue, line width=0.5pt] coordinates {(196.8,#1) (206.2,#1)};
}
\begin{scope}[every node/.style={anchor=south east, text=fibtxt, font=\fibfont, inner sep=0.5pt, fill=black}]
\node at (axis cs:206.2,1173.29) {138.2 1173.29};
\node at (axis cs:206.2,1168.22) {127.2 1168.22};
\node at (axis cs:206.2,1155.69) {100 1155.69};
\node at (axis cs:206.2,1145.82) {78.6 1145.82};
\node at (axis cs:206.2,1138.08) {61.8 1138.08};
\node at (axis cs:206.2,1132.64) {50.0 1132.64};
\node at (axis cs:206.2,1127.20) {38.2 1127.20};
\node at (axis cs:206.2,1120.48) {23.6 1120.48};
\node at (axis cs:206.2,1109.60) {0 1109.60};
\end{scope}

% red wave arrows
\pgfplotsset{redarrow/.style={red, line width=1.5pt, -{Triangle[length=6pt, width=5pt]}}}
\addplot[redarrow] coordinates {(124.0,1103.8) (129.2,1092.7)};
\addplot[redarrow] coordinates {(129.2,1092.7) (132.2,1103.1)};
\addplot[redarrow] coordinates {(132.2,1103.1) (137.9,1081.2)};
\addplot[redarrow] coordinates {(137.9,1081.2) (143.4,1095.0)};
\addplot[redarrow] coordinates {(143.4,1095.0) (148.1,1084.6)};
\addplot[redarrow] coordinates {(148.1,1084.6) (176.1,1126.0)};
\addplot[redarrow] coordinates {(181.9,1124.9) (186.8,1112.9)};
\addplot[redarrow] coordinates {(186.8,1112.9) (194.3,1122.6)};
\addplot[redarrow] coordinates {(194.3,1122.6) (201.2,1109.6)};
\addplot[redarrow] coordinates {(201.2,1109.6) (220.6,1168.3)};
% cyan wave arrows
\pgfplotsset{cyanarrow/.style={wcyan, line width=1.75pt, -{Triangle[length=6.5pt, width=5.5pt]}}}
\addplot[cyanarrow] coordinates {(221.6,1162.5) (227.1,1149.4)};
\addplot[cyanarrow] coordinates {(227.1,1149.4) (234.0,1166.7)};
\addplot[cyanarrow] coordinates {(234.0,1166.7) (242.7,1116.8)};
\addplot[cyanarrow] coordinates {(242.7,1116.8) (263.4,1148.4)};
\addplot[cyanarrow] coordinates {(263.4,1148.4) (282.5,1111.9)};

% wave labels
\node[text=lblcyan, font=\wavefont] at (axis cs:105.2,1109.6) {(a)};
\node[text=lblcyan, font=\wavefont] at (axis cs:126.0,1075.0) {(b)};
\node[text=yellow, font=\wavefont] at (axis cs:129.2,1108.2) {(1)};
\node[text=yellow, font=\wavefont] at (axis cs:138.6,1075.0) {(2)};
\node[text=red, font=\redfont] at (axis cs:141.2,1099.6) {1};
\node[text=red, font=\redfont] at (axis cs:160.4,1077.4) {2};
\node[text=red, font=\redfont] at (axis cs:179.0,1130.3) {3};
\node[text=red, font=\redfont] at (axis cs:201.1,1104.9) {4};
\node[text=red, font=\redfont] at (axis cs:215.8,1172.3) {5x};
\node[text=red, font=\redfont] at (axis cs:178.9,1173.5) {5x = 127.2\% [w1+w3]};
\node[text=yellow, font=\wavefont] at (axis cs:215.7,1179.2) {(3)};
\node[text=olivel, font=\wavefont] at (axis cs:225.8,1174.8) {(b)};
\node[text=olivel, font=\wavefont] at (axis cs:219.6,1144.0) {(a)};
\node[text=olivel, font=\wavefont] at (axis cs:282.4,1105.6) {(c)};
\node[text=yellow, font=\wavefont] at (axis cs:282.4,1097.4) {(4)};

\coordinate (pricelbl) at (axis cs:305.71,1121.75);
\end{axis}

\begin{axis}[
  at={(4.5\pxu,-606.5\pxu)}, anchor=north west,
  scale only axis, width=1231\pxu, height=223\pxu,
  xmin=-0.124, xmax=305.71, ymin=-3.59, ymax=103.11,
  axis background/.style={fill=black},
  axis line style={white, line width=1\pxu},
  ytick={0,32,100}, yticklabels={0,32,100},
  ytick pos=right, yticklabel pos=right,
  xtick={-0.02,15.48,31.42,47.36,63.30,79.24,95.18,111.12,127.06,143.00,158.94,174.88,190.82,206.76,222.70,238.64,254.58,270.52},
  xticklabels={1 Jul 2015,6 Jul 13:00,9 Jul 05:00,13 Jul 21:00,16 Jul 13:00,21 Jul 05:00,23 Jul 21:00,28 Jul 13:00,31 Jul 05:00,4 Aug 21:00,7 Aug 13:00,12 Aug 05:00,14 Aug 21:00,19 Aug 13:00,24 Aug 05:00,26 Aug 21:00,31 Aug 13:00,3 Sep 05:00},
  xtick pos=left,
  tick align=outside,
  major tick length=4\pxu,
  tick style={white, line width=1\pxu},
  yticklabel style={font=\ticfont, text=white, anchor=west, inner sep=0pt, xshift=1.5\pxu},
  xticklabel style={font=\ticfont, text=white, anchor=north west, inner sep=0pt, xshift=-0.5\pxu, yshift=-1\pxu},
  clip=true,
]
\addplot[yellow, line width=2pt, line join=round] table[x=i, y=v] {\rsi};
\addplot[stred, line width=0.5pt] table[x=i, y=d] {\std};
\addplot[stblue, line width=0.5pt] table[x=i, y=k] {\stk};
\end{axis}

% header texts
\fill[white] (9\pxu,-12.5\pxu) -- (17\pxu,-12.5\pxu) -- (13\pxu,-17\pxu) -- cycle;
\node[anchor=west, text=white, font=\ticfont, inner sep=0pt] at (20\pxu,-15.5\pxu) {GOLD,H4\ \ 1121.76 1123.48 1120.73 1121.75};
\node[anchor=west, text=white, font=\ticfont, inner sep=0pt] at (8\pxu,-615.5\pxu) {RSI(5) 33.5217\ \ Sto(21,3,3) 12.9790 11.3233};
\fill[gray!70] (897\pxu,-8\pxu) -- (908\pxu,-8\pxu) -- (902.5\pxu,-13\pxu) -- cycle;
\node[anchor=west, fill=white, text=black, font=\ticfont, inner sep=1.2\pxu, minimum width=40\pxu] at ([xshift=0.5\pxu]pricelbl) {1121.75};

\pgfresetboundingbox
\useasboundingbox (0,0) rectangle (1279\pxu,-847\pxu);
\end{tikzpicture}
\end{document}
